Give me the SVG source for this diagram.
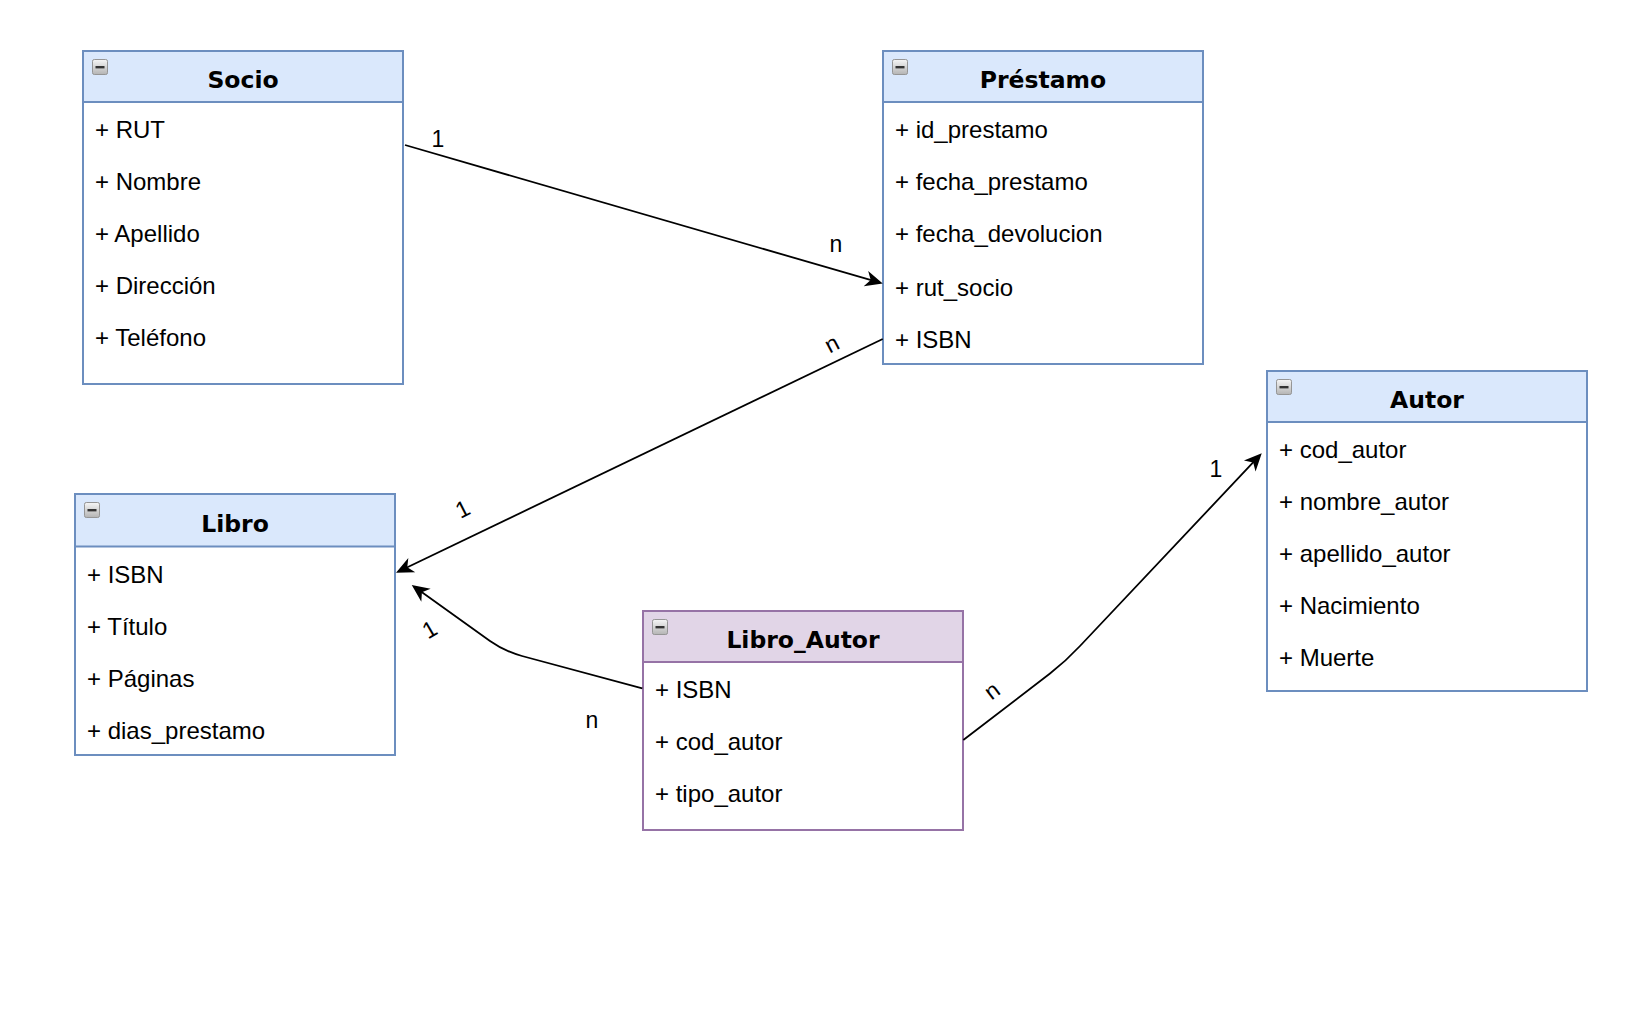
<svg xmlns="http://www.w3.org/2000/svg" width="1626" height="1010" viewBox="0 0 1626 1010">
  <style>
    .box { fill: #ffffff; stroke: #6c8ebf; stroke-width: 2; }
    .head { fill: #dae8fc; stroke: #6c8ebf; stroke-width: 2; }
    .box-p { fill: #ffffff; stroke: #9673a6; stroke-width: 2; }
    .head-p { fill: #e1d5e7; stroke: #9673a6; stroke-width: 2; }
    .title { font-family: "DejaVu Sans", Verdana, sans-serif; font-weight: bold; font-size: 23.5px; fill: #000; text-anchor: middle; }
    .attr { font-family: "Liberation Sans", Arial, Helvetica, sans-serif; font-size: 24px; fill: #000; }
    .lbl { font-family: "Liberation Sans", Arial, Helvetica, sans-serif; font-size: 23px; fill: #000; text-anchor: middle; }
    .edge { fill: none; stroke: #000; stroke-width: 1.8; }
  </style>
  <defs>
    <linearGradient id="iconGrad" x1="0" y1="0" x2="0" y2="1">
      <stop offset="0" stop-color="#f6f6f6"/>
      <stop offset="1" stop-color="#b4b4b4"/>
    </linearGradient>
    <!-- collapse toggle shown at the top-left of each class header -->
    <g id="collapse">
      <rect x="0.5" y="0.5" width="15" height="15" rx="1.8" fill="url(#iconGrad)" stroke="#959595" stroke-width="1"/>
      <rect x="3.5" y="7" width="9" height="2.4" fill="#333"/>
    </g>
    <marker id="arrow" markerUnits="userSpaceOnUse" viewBox="-20 -10 22 20" refX="-4" refY="0" markerWidth="22" markerHeight="20" orient="auto">
      <path d="M0,0 L-17.5,-8 L-12.5,0 L-17.5,8 Z" fill="#000"/>
    </marker>
  </defs>

  <rect width="1626" height="1010" fill="#ffffff"/>

  <!-- Socio -->
  <g id="socio">
    <rect class="box" x="83" y="51" width="320" height="333"/>
    <rect class="head" x="83" y="51" width="320" height="51"/>
    <use href="#collapse" x="92" y="59"/>
    <text class="title" x="243" y="88">Socio</text>
    <text class="attr" x="95" y="138">+ RUT</text>
    <text class="attr" x="95" y="190">+ Nombre</text>
    <text class="attr" x="95" y="242">+ Apellido</text>
    <text class="attr" x="95" y="294">+ Dirección</text>
    <text class="attr" x="95" y="346">+ Teléfono</text>
  </g>

  <!-- Préstamo -->
  <g id="prestamo">
    <rect class="box" x="883" y="51" width="320" height="313"/>
    <rect class="head" x="883" y="51" width="320" height="51"/>
    <use href="#collapse" x="892" y="59"/>
    <text class="title" x="1043" y="88">Préstamo</text>
    <text class="attr" x="895" y="138">+ id_prestamo</text>
    <text class="attr" x="895" y="190">+ fecha_prestamo</text>
    <text class="attr" x="895" y="242">+ fecha_devolucion</text>
    <text class="attr" x="895" y="296">+ rut_socio</text>
    <text class="attr" x="895" y="348">+ ISBN</text>
  </g>

  <!-- Libro -->
  <g id="libro">
    <rect class="box" x="75" y="494" width="320" height="261"/>
    <rect class="head" x="75" y="494" width="320" height="52.5"/>
    <use href="#collapse" x="84" y="502"/>
    <text class="title" x="235" y="532">Libro</text>
    <text class="attr" x="87" y="583">+ ISBN</text>
    <text class="attr" x="87" y="635">+ Título</text>
    <text class="attr" x="87" y="687">+ Páginas</text>
    <text class="attr" x="87" y="739">+ dias_prestamo</text>
  </g>

  <!-- Libro_Autor -->
  <g id="libro_autor">
    <rect class="box-p" x="643" y="611" width="320" height="219"/>
    <rect class="head-p" x="643" y="611" width="320" height="51"/>
    <use href="#collapse" x="652" y="619"/>
    <text class="title" x="803" y="648">Libro_Autor</text>
    <text class="attr" x="655" y="698">+ ISBN</text>
    <text class="attr" x="655" y="750">+ cod_autor</text>
    <text class="attr" x="655" y="802">+ tipo_autor</text>
  </g>

  <!-- Autor -->
  <g id="autor">
    <rect class="box" x="1267" y="371" width="320" height="320"/>
    <rect class="head" x="1267" y="371" width="320" height="51"/>
    <use href="#collapse" x="1276" y="379"/>
    <text class="title" x="1427" y="408">Autor</text>
    <text class="attr" x="1279" y="458">+ cod_autor</text>
    <text class="attr" x="1279" y="510">+ nombre_autor</text>
    <text class="attr" x="1279" y="562">+ apellido_autor</text>
    <text class="attr" x="1279" y="614">+ Nacimiento</text>
    <text class="attr" x="1279" y="666">+ Muerte</text>
  </g>

  <!-- Relationships -->
  <g id="connectors">
    <!-- Socio 1 - n Préstamo -->
    <path class="edge" d="M405,145 L878.9,282.4" marker-end="url(#arrow)"/>
    <text class="lbl" x="438" y="147">1</text>
    <text class="lbl" x="836" y="252">n</text>

    <!-- Préstamo n - 1 Libro -->
    <path class="edge" d="M882.7,339 L399.6,571" marker-end="url(#arrow)"/>
    <text class="lbl" transform="translate(832.5,345.5) rotate(-28)" y="6">n</text>
    <text class="lbl" transform="translate(462.5,509) rotate(-27)" y="8">1</text>

    <!-- Libro_Autor n - 1 Libro -->
    <path class="edge" d="M642.3,688.3 L522,656 Q504,651 490,641 L415,587.3" marker-end="url(#arrow)"/>
    <text class="lbl" transform="translate(429.5,629.5) rotate(-30)" y="8">1</text>
    <text class="lbl" x="592" y="728">n</text>

    <!-- Libro_Autor n - 1 Autor -->
    <path class="edge" d="M963.3,740 L1050,673.5 Q1066,661 1080,646 L1259,456.2" marker-end="url(#arrow)"/>
    <text class="lbl" transform="translate(993,692) rotate(-37)" y="6">n</text>
    <text class="lbl" x="1216" y="477">1</text>
  </g>
</svg>
